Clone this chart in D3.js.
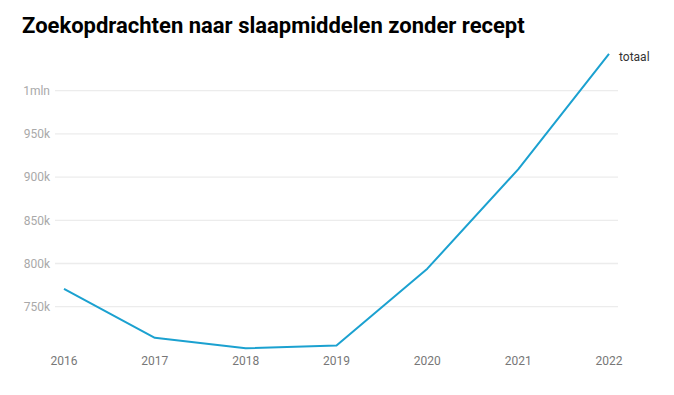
<!DOCTYPE html>
<html><head><meta charset="utf-8">
<script src="https://cdn.jsdelivr.net/npm/d3@7"></script>
<style>body{margin:0;background:#fff;font-family:Roboto,sans-serif;}</style>
</head><body>
<svg id="c" width="674" height="395"></svg>
<script>
const years = ["2016","2017","2018","2019","2020","2021","2022"];
const totaal = [770500, 714000, 702000, 705000, 794000, 909000, 1042500];
const yTicks = [750000, 800000, 850000, 900000, 950000, 1000000];
const yTickLabels = ["750k","800k","850k","900k","950k","1mln"];
const title = "Zoekopdrachten naar slaapmiddelen zonder recept";
const seriesName = "totaal";

const svg = d3.select("#c");
svg.append("text").attr("x",22).attr("y",33).text(title)
  .attr("font-family","Roboto").attr("font-weight","bold").attr("font-size","22px").attr("fill","#000");

const x = d3.scalePoint().domain(years).range([64,609]);
const y = d3.scaleLinear().domain([700000,1050000]).range([349.9,47.5]);

const g = svg.append("g");
g.selectAll("line.grid").data(yTicks).join("line")
  .attr("x1",55).attr("x2",618)
  .attr("y1",d=>y(d)).attr("y2",d=>y(d))
  .attr("stroke","#ececec").attr("stroke-width",1.3);
g.selectAll("text.yl").data(yTicks).join("text")
  .attr("x",50).attr("y",d=>y(d)).attr("dy","0.35em")
  .attr("text-anchor","end").attr("font-size","12px").attr("fill","#a9a9a9")
  .text((d,i)=>yTickLabels[i]);
g.selectAll("text.xl").data(years).join("text")
  .attr("x",d=>x(d)).attr("y",361).attr("dy","0.35em")
  .attr("text-anchor","middle").attr("font-size","12px").attr("fill","#777")
  .text(d=>d);

const line = d3.line().x((d,i)=>x(years[i])).y(d=>y(d));
svg.append("path").datum(totaal).attr("d",line)
  .attr("fill","none").attr("stroke","#1ba1d0").attr("stroke-width",2).attr("stroke-linejoin","round");
svg.append("text").attr("x",x(years[6])+10).attr("y",y(totaal[6])+3).attr("dy","0.35em")
  .attr("font-size","12px").attr("fill","#333").text(seriesName);
</script>
</body></html>
